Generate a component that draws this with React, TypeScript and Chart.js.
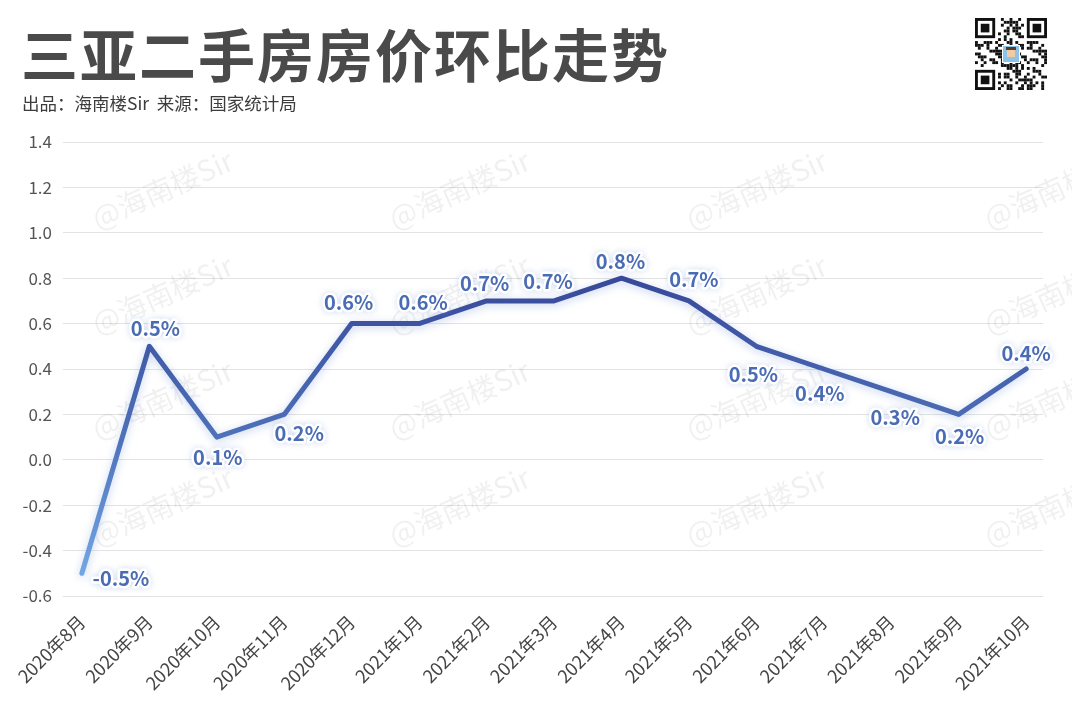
import React, { useEffect, useRef } from 'react';
import { Chart, registerables } from 'chart.js';

Chart.register(...registerables);

// ---- data ----
const MONTHS = [
  '2020年8月', '2020年9月', '2020年10月', '2020年11月', '2020年12月',
  '2021年1月', '2021年2月', '2021年3月', '2021年4月', '2021年5月',
  '2021年6月', '2021年7月', '2021年8月', '2021年9月', '2021年10月',
];
const MOM_CHANGE = [-0.5, 0.5, 0.1, 0.2, 0.6, 0.6, 0.7, 0.7, 0.8, 0.7, 0.5, 0.4, 0.3, 0.2, 0.4];
const Y_TICKS = { min: -0.6, max: 1.4, step: 0.2 };

const TITLE = '三亚二手房房价环比走势';
const SUBTITLE = '出品：海南楼Sir  来源：国家统计局';
const WATERMARK = '@海南楼Sir';

// ---- style (label offsets from point, px) ----
const LABEL_OFFSETS: [number, number][] = [
  [39, 5], [6, -18], [1, 20], [15, 19], [-3, -21], [4, -21], [-2, -17], [-6, -19],
  [-1, -17], [5, -21], [-3, 28], [-4, 24], [4, 26], [1, 22], [0, -16],
];
const FONT = '"Noto Sans CJK SC", "Noto Sans", sans-serif';

export default function App() {
  const ref = useRef<HTMLCanvasElement>(null);

  useEffect(() => {
    document.body.style.margin = '0';
    const canvas = ref.current!;

    const watermarkPlugin = {
      id: 'watermark',
      beforeDatasetsDraw(chart: any) {
        const ctx = chart.ctx;
        ctx.save();
        ctx.font = `29px ${FONT}`;
        ctx.fillStyle = 'rgba(0,0,0,0.06)';
        ctx.textBaseline = 'alphabetic';
        const cols = [98, 395, 692, 990];
        const rows = [230, 335, 440, 547];
        for (const cx of cols) {
          for (const ry of rows) {
            ctx.save();
            ctx.translate(cx, ry);
            ctx.rotate((-24 * Math.PI) / 180);
            ctx.fillText(WATERMARK, 0, 0);
            ctx.restore();
          }
        }
        ctx.restore();
      },
    };

    const glowPlugin = {
      id: 'glow',
      beforeDatasetDraw(chart: any) {
        const ctx = chart.ctx;
        ctx.save();
        ctx.shadowColor = 'rgba(80,120,200,0.35)';
        ctx.shadowBlur = 8;
        ctx.shadowOffsetY = 2;
      },
      afterDatasetDraw(chart: any) {
        chart.ctx.restore();
      },
    };

    const valueLabelPlugin = {
      id: 'valueLabels',
      afterDatasetsDraw(chart: any) {
        const ctx = chart.ctx;
        const meta = chart.getDatasetMeta(0);
        ctx.save();
        ctx.font = `bold 20px ${FONT}`;
        ctx.textAlign = 'center';
        ctx.textBaseline = 'middle';
        meta.data.forEach((pt: any, i: number) => {
          const [dx, dy] = LABEL_OFFSETS[i] || [0, -18];
          const text = MOM_CHANGE[i].toFixed(1) + '%';
          const x = pt.x + dx;
          const y = pt.y + dy;
          ctx.save();
          ctx.shadowColor = 'rgba(140,165,215,0.4)';
          ctx.shadowBlur = 6;
          ctx.lineJoin = 'round';
          ctx.lineWidth = 5;
          ctx.strokeStyle = '#ffffff';
          ctx.strokeText(text, x, y);
          ctx.restore();
          ctx.lineWidth = 3;
          ctx.lineJoin = 'round';
          ctx.strokeStyle = '#ffffff';
          ctx.strokeText(text, x, y);
          ctx.fillStyle = '#4a6cb5';
          ctx.fillText(text, x, y);
        });
        ctx.restore();
      },
    };

    const qrPlugin = {
      id: 'qr',
      afterDraw(chart: any) {
        const ctx = chart.ctx;
        const x0 = 975, y0 = 18, n = 25, s = 72 / 25;
        ctx.save();
        ctx.fillStyle = '#fff';
        ctx.fillRect(x0 - 2, y0 - 2, 76, 76);
        ctx.fillStyle = '#111';
        const inFinder = (r: number, c: number) =>
          (r < 8 && c < 8) || (r < 8 && c >= n - 8) || (r >= n - 8 && c < 8);
        for (let r = 0; r < n; r++) {
          for (let c = 0; c < n; c++) {
            if (inFinder(r, c)) continue;
            if (((r * 7 + c * 11 + ((r * c) % 5)) % 3) === 0 || ((r + c * 3) % 7) === 1) {
              ctx.fillRect(x0 + c * s, y0 + r * s, s, s);
            }
          }
        }
        const finder = (fr: number, fc: number) => {
          ctx.fillStyle = '#111';
          ctx.fillRect(x0 + fc * s, y0 + fr * s, 7 * s, 7 * s);
          ctx.fillStyle = '#fff';
          ctx.fillRect(x0 + (fc + 1) * s, y0 + (fr + 1) * s, 5 * s, 5 * s);
          ctx.fillStyle = '#111';
          ctx.fillRect(x0 + (fc + 2) * s, y0 + (fr + 2) * s, 3 * s, 3 * s);
        };
        finder(0, 0);
        finder(0, n - 7);
        finder(n - 7, 0);
        ctx.fillStyle = '#fff';
        ctx.fillRect(x0 + 27, y0 + 27, 18, 18);
        ctx.fillStyle = '#8cc3e8';
        ctx.fillRect(x0 + 28, y0 + 28, 16, 16);
        ctx.fillStyle = '#f1c9a5';
        ctx.fillRect(x0 + 32, y0 + 31, 8, 8);
        ctx.fillStyle = '#5a3a2a';
        ctx.fillRect(x0 + 31, y0 + 29, 10, 3);
        ctx.restore();
      },
    };

    const chart = new Chart(canvas, {
      type: 'line',
      data: {
        datasets: [
          {
            data: MOM_CHANGE.map((v, i) => ({ x: i, y: v })),
            borderWidth: 5,
            pointRadius: 0,
            pointHoverRadius: 0,
            tension: 0,
            fill: false,
            borderCapStyle: 'round',
            borderJoinStyle: 'round',
            borderColor: (c: any) => {
              const ch = c.chart;
              const area = ch.chartArea;
              if (!area) return '#3f57a3';
              const ys = ch.scales.y;
              const g = ch.ctx.createLinearGradient(0, ys.getPixelForValue(-0.5), 0, ys.getPixelForValue(0.8));
              g.addColorStop(0, '#72a6e2');
              g.addColorStop(0.45, '#4e72ba');
              g.addColorStop(1, '#38499a');
              return g;
            },
          },
        ],
      },
      options: {
        responsive: false,
        animation: false,
        events: [],
        layout: { padding: { left: 0, right: 29, top: 142, bottom: 0 } },
        plugins: {
          legend: { display: false },
          tooltip: { enabled: false },
          title: { display: false },
        },
        scales: {
          x: {
            type: 'linear',
            min: -0.28,
            max: 14.25,
            grid: { display: false },
            border: { display: false },
            afterBuildTicks: (axis: any) => {
              axis.ticks = MONTHS.map((_, i) => ({ value: i }));
            },
            afterFit: (scale: any) => {
              scale.height = 113;
            },
            ticks: {
              stepSize: 1,
              includeBounds: false,
              autoSkip: false,
              maxRotation: 45,
              minRotation: 45,
              padding: 7,
              color: '#444',
              font: { family: FONT, size: 18 },
              callback: (v: any) => MONTHS[v as number] ?? '',
            },
          },
          y: {
            min: Y_TICKS.min,
            max: Y_TICKS.max,
            grid: { color: '#e3e3e3', lineWidth: 1, drawTicks: false },
            border: { display: false },
            afterFit: (scale: any) => {
              scale.width = 63;
            },
            ticks: {
              stepSize: Y_TICKS.step,
              padding: 11,
              color: '#555',
              font: { family: FONT, size: 17 },
              callback: (v: any) => {
                const n = Number(v);
                return Math.abs(n) < 1e-9 ? '0.0' : n.toFixed(1);
              },
            },
          },
        },
      },
      plugins: [watermarkPlugin, glowPlugin, valueLabelPlugin, qrPlugin],
    } as any);

    return () => chart.destroy();
  }, []);

  return (
    <div style={{ position: 'relative', width: 1072, height: 709, background: '#fff', overflow: 'hidden' }}>
      <canvas ref={ref} width={1072} height={709} style={{ position: 'absolute', left: 0, top: 0 }} />
      <div
        style={{
          position: 'absolute', left: 21, top: 16, fontFamily: FONT, fontWeight: 700,
          fontSize: 57, lineHeight: '72px', color: '#4a4a4a', whiteSpace: 'nowrap', letterSpacing: 2,
        }}
      >
        {TITLE}
      </div>
      <div
        style={{
          position: 'absolute', left: 22, top: 92, fontFamily: FONT, fontSize: 17.5,
          lineHeight: '22px', color: '#3c3c3c', whiteSpace: 'pre',
        }}
      >
        {SUBTITLE}
      </div>
    </div>
  );
}
